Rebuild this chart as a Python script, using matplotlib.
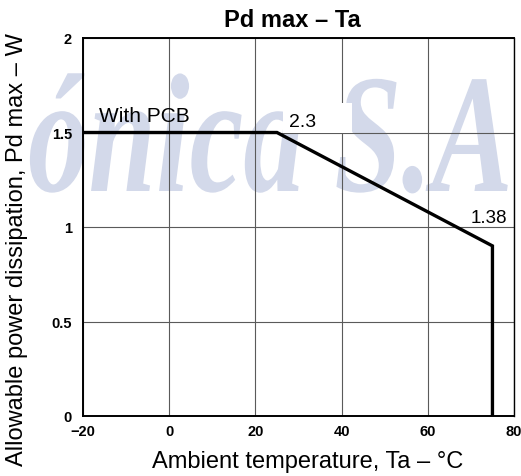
import matplotlib
matplotlib.use("Agg")
import matplotlib.pyplot as plt
from matplotlib.patches import Rectangle
from matplotlib.patheffects import AbstractPathEffect
from matplotlib.transforms import Affine2D

# ---- data ----
temps = [-20, 25, 75, 75]
power = [1.5, 1.5, 0.9, 0.0]
x_ticks = [-20, 0, 20, 40, 60, 80]
x_tick_labels = ["\u221220", "0", "20", "40", "60", "80"]
y_ticks = [0, 0.5, 1, 1.5, 2]
y_tick_labels = ["0", "0.5", "1", "1.5", "2"]
title = "Pd max \u2013 Ta"
xlabel = "Ambient temperature, Ta \u2013 \u00b0C"
ylabel = "Allowable power dissipation, Pd max \u2013 W"
watermark = "\u00f3nica S.A"

plt.rcParams['font.family'] = ['Liberation Sans', 'DejaVu Sans']

W, H = 521, 477
fig = plt.figure(figsize=(W / 100, H / 100), dpi=100)


class HStretch(AbstractPathEffect):
    def __init__(self, sx):
        super().__init__()
        self.sx = sx

    def draw_path(self, renderer, gc, tpath, affine, rgbFace=None):
        m = affine.get_matrix()
        tx, ty = m[0, 2], m[1, 2]
        new = affine + Affine2D().translate(-tx, -ty).scale(self.sx, 1.0).translate(tx, ty)
        renderer.draw_path(gc, tpath, new, rgbFace)


# watermark behind everything
fig.text(28 / W, (H - 192) / H, watermark, fontsize=122,
         family=['Liberation Serif', 'DejaVu Serif'], weight='bold', style='italic',
         color='#d3d9ea', ha='left', va='baseline', zorder=-5,
         path_effects=[HStretch(0.715)])

ax = fig.add_axes([83 / W, (H - 417) / H, (514 - 83) / W, (417 - 39) / H])
ax.patch.set_alpha(0)
ax.set_xlim(-20, 80)
ax.set_ylim(0, 2)
ax.set_axisbelow(True)
ax.grid(True, color='#5a5a5a', linewidth=0.8)

ax.set_xticks(x_ticks)
ax.set_xticklabels(x_tick_labels, fontsize=10.5, weight='bold')
ax.set_yticks(y_ticks)
ax.set_yticklabels(y_tick_labels, fontsize=10.5, weight='bold')
ax.tick_params(axis='both', length=0)
ax.tick_params(axis='x', pad=6)
ax.tick_params(axis='y', pad=8)

for s in ['left', 'bottom', 'top']:
    ax.spines[s].set_linewidth(1.4)
ax.spines['right'].set_linewidth(1.0)

# white patch behind the "2.3" label
ax.add_patch(Rectangle((26.3, 1.5), 16.0, 0.156, facecolor='white',
                       edgecolor='none', zorder=1))

ax.plot(temps, power, color='black', linewidth=2.4, zorder=3,
        solid_joinstyle='miter')

ax.text(-16.3, 1.561, "With PCB", fontsize=15, ha='left', va='baseline', zorder=4)
ax.text(27.7, 1.534, "2.3", fontsize=14, ha='left', va='baseline', zorder=4)
ax.text(70.0, 1.026, "1.38", fontsize=13.5, ha='left', va='baseline', zorder=4)

fig.text(292.5 / W, (H - 27) / H, title, fontsize=17, weight='bold',
         ha='center', va='baseline')
fig.text(307.5 / W, (H - 468) / H, xlabel, fontsize=17,
         ha='center', va='baseline')
fig.text(17 / W, (H - 250) / H, ylabel, fontsize=17, rotation=90,
         ha='center', va='center')

fig.savefig("out.png", dpi=100)
